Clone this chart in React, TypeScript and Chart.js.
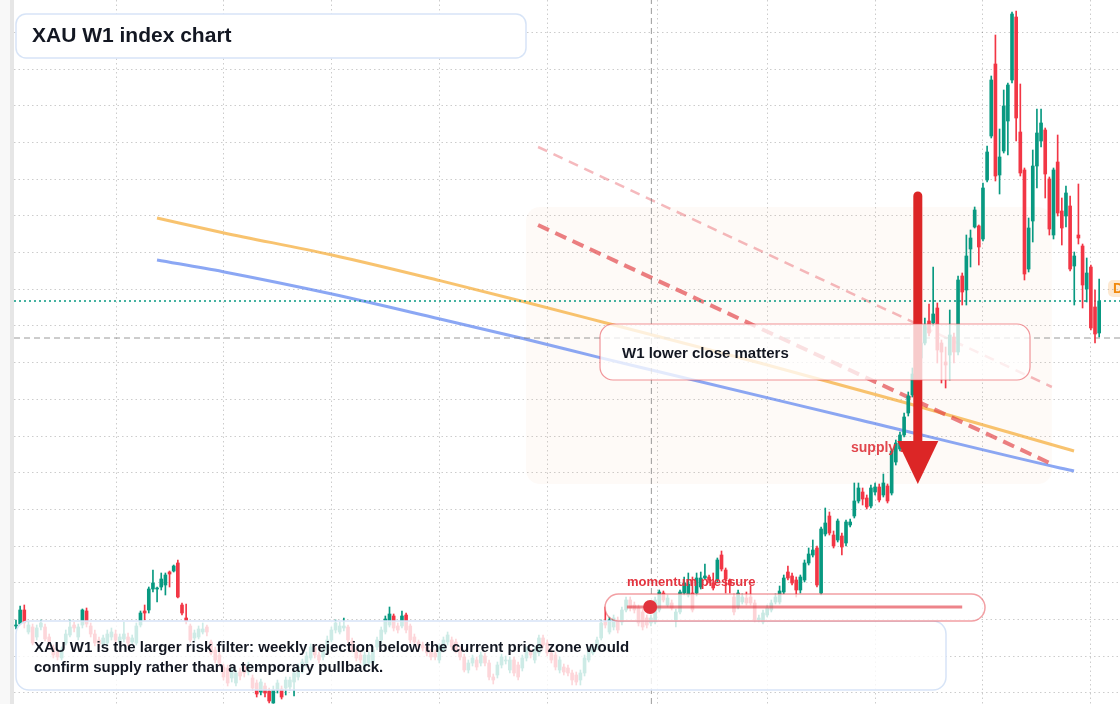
import React, { useEffect, useRef } from 'react';
import { Chart, registerables } from 'chart.js';

Chart.register(...registerables);

// Weekly XAU candles (price units)
const opens = [
  1842, 1848, 1890, 1824, 1839, 1809, 1839, 1839, 1809, 1776,
  1764, 1746, 1791, 1815, 1845, 1809, 1845, 1887, 1842, 1818,
  1800, 1788, 1791, 1809, 1818, 1794, 1803, 1809, 1794, 1791,
  1845, 1887, 1890, 1953, 1953, 1959, 1965, 2004, 2007, 2031,
  1905, 1866, 1842, 1806, 1809, 1824, 1839, 1794, 1770, 1755,
  1719, 1716, 1686, 1671, 1704, 1719, 1704, 1686, 1671, 1644,
  1662, 1647, 1611, 1650, 1653, 1656, 1659, 1674, 1689, 1710,
  1731, 1746, 1776, 1755, 1749, 1770, 1800, 1830, 1824, 1836,
  1839, 1797, 1764, 1755, 1725, 1731, 1731, 1779, 1800, 1824,
  1845, 1872, 1842, 1842, 1875, 1842, 1809, 1794, 1785, 1779,
  1764, 1761, 1740, 1770, 1794, 1800, 1794, 1770, 1749, 1710,
  1731, 1740, 1731, 1752, 1731, 1689, 1695, 1725, 1737, 1710,
  1740, 1725, 1716, 1746, 1764, 1740, 1761, 1806, 1791, 1761,
  1755, 1710, 1719, 1716, 1701, 1695, 1680, 1701, 1740, 1761,
  1779, 1806, 1854, 1824, 1839, 1860, 1854, 1890, 1920, 1905,
  1896, 1884, 1866, 1851, 1854, 1890, 1941, 1905, 1911, 1860,
  1884, 1941, 1935, 1941, 1941, 1959, 1986, 1989, 1971, 1980,
  2055, 2010, 1980, 1929, 1899, 1914, 1926, 1929, 1911, 1860,
  1854, 1875, 1890, 1914, 1914, 1944, 2004, 1992, 1980, 1950,
  1980, 2031, 2055, 2076, 1941, 2118, 2172, 2115, 2100, 2112,
  2091, 2145, 2172, 2217, 2244, 2226, 2202, 2244, 2259, 2235,
  2262, 2241, 2334, 2373, 2415, 2481, 2535, 2598, 2646, 2691,
  2757, 2751, 2796, 2691, 2634, 2655, 2709, 2664, 2892, 2850,
  2973, 3039, 3042, 3003, 3180, 3312, 3528, 3195, 3267, 3357,
  3480, 3669, 3324, 3210, 2913, 3057, 3222, 3297, 3330, 3183,
  3015, 3234, 3087, 3072, 3102, 2922, 3015, 2982, 2853, 2919,
  2799, 2721,
];
const highs = [
  1860, 1902, 1905, 1854, 1848, 1845, 1860, 1848, 1818, 1785,
  1770, 1779, 1830, 1860, 1854, 1848, 1893, 1896, 1851, 1830,
  1809, 1815, 1830, 1836, 1830, 1818, 1854, 1821, 1815, 1851,
  1887, 1905, 1959, 2010, 1959, 2001, 2001, 2007, 2025, 2040,
  1911, 1908, 1848, 1830, 1842, 1851, 1845, 1800, 1779, 1764,
  1728, 1725, 1719, 1710, 1716, 1728, 1734, 1695, 1680, 1683,
  1671, 1656, 1662, 1680, 1662, 1689, 1689, 1710, 1728, 1743,
  1764, 1788, 1785, 1764, 1779, 1812, 1839, 1860, 1854, 1866,
  1845, 1806, 1773, 1764, 1764, 1764, 1779, 1809, 1839, 1872,
  1899, 1878, 1851, 1887, 1881, 1848, 1818, 1800, 1794, 1788,
  1773, 1770, 1788, 1809, 1824, 1809, 1803, 1779, 1758, 1740,
  1755, 1749, 1764, 1761, 1740, 1698, 1734, 1758, 1752, 1749,
  1749, 1734, 1755, 1779, 1773, 1779, 1815, 1815, 1800, 1770,
  1764, 1749, 1728, 1725, 1710, 1704, 1710, 1755, 1779, 1788,
  1809, 1860, 1899, 1869, 1875, 1869, 1899, 1929, 1929, 1914,
  1905, 1893, 1875, 1875, 1929, 1950, 1947, 1935, 1920, 1893,
  1950, 1989, 2001, 1989, 2001, 2004, 2028, 1995, 2001, 2046,
  2067, 2016, 1983, 1938, 1950, 1938, 1944, 1962, 1920, 1875,
  1890, 1905, 1920, 1938, 1962, 1995, 2022, 2001, 1989, 1995,
  2040, 2076, 2100, 2082, 2139, 2196, 2184, 2127, 2163, 2121,
  2160, 2163, 2271, 2271, 2256, 2235, 2265, 2271, 2268, 2298,
  2268, 2373, 2400, 2424, 2481, 2544, 2616, 2664, 2712, 2766,
  2808, 2919, 2811, 2700, 2679, 2790, 2721, 2892, 2901, 3015,
  3030, 3099, 3045, 3171, 3282, 3492, 3615, 3333, 3450, 3471,
  3684, 3687, 3468, 3216, 3066, 3270, 3393, 3393, 3336, 3189,
  3216, 3315, 3126, 3162, 3132, 2964, 3168, 2988, 2946, 2925,
  2850, 2883,
];
const lows = [
  1833, 1845, 1836, 1818, 1785, 1800, 1830, 1797, 1782, 1746,
  1740, 1740, 1785, 1809, 1824, 1800, 1836, 1839, 1809, 1782,
  1776, 1782, 1785, 1800, 1791, 1785, 1794, 1782, 1785, 1785,
  1839, 1860, 1881, 1944, 1914, 1950, 1935, 1959, 2004, 1926,
  1875, 1848, 1794, 1797, 1803, 1818, 1812, 1755, 1731, 1722,
  1680, 1662, 1674, 1662, 1680, 1689, 1695, 1650, 1629, 1635,
  1629, 1611, 1610, 1641, 1623, 1635, 1650, 1632, 1680, 1701,
  1719, 1740, 1746, 1731, 1740, 1761, 1794, 1821, 1818, 1827,
  1791, 1764, 1737, 1731, 1716, 1722, 1722, 1770, 1791, 1818,
  1839, 1827, 1821, 1836, 1821, 1791, 1785, 1776, 1767, 1752,
  1740, 1740, 1731, 1764, 1785, 1770, 1761, 1740, 1704, 1701,
  1722, 1710, 1722, 1722, 1680, 1668, 1686, 1716, 1728, 1701,
  1692, 1680, 1707, 1737, 1746, 1731, 1752, 1776, 1752, 1731,
  1710, 1701, 1695, 1692, 1665, 1665, 1665, 1692, 1734, 1755,
  1770, 1800, 1836, 1818, 1830, 1821, 1845, 1884, 1887, 1881,
  1842, 1830, 1836, 1842, 1848, 1884, 1914, 1899, 1890, 1839,
  1878, 1935, 1929, 1884, 1932, 1953, 1983, 1971, 1950, 1974,
  2007, 1941, 1941, 1875, 1893, 1908, 1905, 1905, 1854, 1854,
  1848, 1869, 1884, 1908, 1908, 1938, 1980, 1965, 1929, 1941,
  1974, 2025, 2049, 1959, 1935, 2112, 2115, 2076, 2094, 2055,
  2082, 2139, 2166, 2211, 2205, 2193, 2196, 2235, 2214, 2229,
  2211, 2235, 2325, 2367, 2409, 2472, 2529, 2586, 2634, 2685,
  2712, 2742, 2631, 2571, 2556, 2580, 2631, 2655, 2805, 2805,
  2919, 3036, 2925, 2997, 3174, 3306, 3177, 3138, 3261, 3255,
  3471, 3297, 3192, 2880, 2904, 2994, 3156, 3279, 3126, 3015,
  3003, 3072, 2985, 3039, 2907, 2805, 2988, 2796, 2814, 2730,
  2691, 2709,
];
const closes = [
  1845, 1890, 1851, 1845, 1791, 1836, 1851, 1803, 1794, 1755,
  1749, 1770, 1818, 1839, 1836, 1839, 1890, 1848, 1818, 1791,
  1788, 1806, 1818, 1824, 1800, 1809, 1818, 1791, 1806, 1842,
  1881, 1881, 1953, 1971, 1956, 1983, 1995, 1998, 2022, 1929,
  1881, 1857, 1800, 1821, 1833, 1833, 1824, 1761, 1740, 1731,
  1689, 1671, 1710, 1701, 1692, 1701, 1725, 1656, 1638, 1674,
  1641, 1617, 1650, 1671, 1629, 1680, 1680, 1701, 1719, 1734,
  1752, 1779, 1755, 1740, 1770, 1800, 1830, 1851, 1842, 1842,
  1800, 1770, 1746, 1740, 1755, 1755, 1770, 1800, 1830, 1863,
  1878, 1836, 1830, 1872, 1830, 1800, 1794, 1785, 1776, 1761,
  1749, 1749, 1779, 1800, 1815, 1779, 1770, 1749, 1710, 1731,
  1746, 1719, 1755, 1731, 1689, 1680, 1725, 1749, 1740, 1740,
  1701, 1689, 1746, 1770, 1755, 1770, 1806, 1785, 1761, 1740,
  1719, 1740, 1704, 1701, 1680, 1674, 1701, 1746, 1770, 1779,
  1800, 1851, 1845, 1860, 1866, 1830, 1890, 1920, 1896, 1890,
  1851, 1839, 1845, 1866, 1920, 1944, 1920, 1926, 1896, 1884,
  1944, 1971, 1968, 1890, 1986, 1986, 1992, 1980, 1956, 2040,
  2013, 1983, 1965, 1884, 1941, 1929, 1911, 1911, 1860, 1866,
  1881, 1896, 1911, 1929, 1947, 1986, 1986, 1971, 1950, 1989,
  2031, 2058, 2070, 1965, 2133, 2151, 2121, 2082, 2157, 2079,
  2154, 2154, 2217, 2256, 2223, 2199, 2256, 2259, 2220, 2271,
  2217, 2367, 2391, 2415, 2469, 2532, 2598, 2646, 2691, 2745,
  2721, 2778, 2670, 2664, 2625, 2715, 2664, 2880, 2844, 2952,
  3006, 3090, 2979, 3156, 3264, 3480, 3192, 3249, 3402, 3465,
  3678, 3366, 3201, 2898, 3036, 3222, 3321, 3351, 3198, 3033,
  3210, 3081, 3036, 3141, 2913, 2952, 3006, 2865, 2901, 2736,
  2718, 2817,
];

// Guide curves and trend lines: [week index, price]
const orangeGuide = [
  [33.98, 3066], [49.88, 3022], [76.14, 2955], [102.17, 2878], [122.65, 2814],
  [143.13, 2748], [179.28, 2631], [215.42, 2508], [251.57, 2379], [254.94, 2367],
];
const blueGuide = [
  [33.98, 2940], [49.88, 2905], [76.14, 2838], [102.17, 2763], [122.65, 2703],
  [140.72, 2647], [155.18, 2604], [203.37, 2460], [251.57, 2316], [254.94, 2307],
];
const supplyUpperLine = [[125.8, 3279], [249.6, 2559]];
const supplyLowerLine = [[125.8, 3045], [250.1, 2325]];

const momentumLevel = 1899;
const momentumWeeks = [147.2, 228.0];
const momentumMarkerWeek = 152.8;

const crosshairWeek = 153.1;
const crosshairPrice = 2706;

// Grid positions (half-year week marks, price levels)
const gridWeeks = [24.2, 50.1, 76.1, 102, 128, 154.5, 181, 207.2, 232.9, 258.9];
const gridPrices = [
  1642, 1752, 1862, 1972, 2082, 2192, 2302, 2412, 2522, 2632,
  2742, 2852, 2962, 3072, 3182, 3292, 3402, 3512, 3622,
];

const X_MIN = -0.48;
const X_MAX = 266.02;
const Y_MIN = 1608;
const Y_MAX = 3720;

const supplyZone = { fromWeek: 122.9, toWeek: 249.6, top: 3099, bottom: 2268 };
const supplyArrow = { week: 217.3, top: 3132, headBase: 2397, tip: 2268 };
const supplyLabel = { week: 201.2, price: 2376, text: 'supply zone' };

const TITLE = 'XAU W1 index chart';
const NOTE_LINES = [
  'XAU W1 is the larger risk filter: weekly rejection below the current price zone would',
  'confirm supply rather than a temporary pullback.',
];
const W1_TEXT = 'W1 lower close matters';
const MOMENTUM_TEXT = 'momentum pressure';
const EDGE_TAG = 'D1';

const UP = '#089981';
const DOWN = '#f23645';
const FONT = '"Liberation Sans", Arial, Helvetica, sans-serif';

function roundRect(ctx: any, x: number, y: number, w: number, h: number, r: number) {
  ctx.beginPath();
  ctx.moveTo(x + r, y);
  ctx.arcTo(x + w, y, x + w, y + h, r);
  ctx.arcTo(x + w, y + h, x, y + h, r);
  ctx.arcTo(x, y + h, x, y, r);
  ctx.arcTo(x, y, x + w, y, r);
  ctx.closePath();
}

function panel(ctx: any, x: number, y: number, w: number, h: number, r: number, fill: string, stroke: string, lw: number) {
  ctx.save();
  roundRect(ctx, x, y, w, h, r);
  ctx.fillStyle = fill;
  ctx.fill();
  ctx.lineWidth = lw;
  ctx.strokeStyle = stroke;
  ctx.stroke();
  ctx.restore();
}

function text(ctx: any, s: string, x: number, y: number, font: string, color: string, align = 'left') {
  ctx.save();
  ctx.font = font;
  ctx.fillStyle = color;
  ctx.textAlign = align;
  ctx.textBaseline = 'middle';
  ctx.fillText(s, x, y);
  ctx.restore();
}

const overlayPlugin = {
  id: 'xauOverlays',
  beforeDraw(chart: any) {
    const { ctx, width, height } = chart;
    ctx.save();
    ctx.fillStyle = '#ffffff';
    ctx.fillRect(0, 0, width, height);
    ctx.fillStyle = '#f8f8f8';
    ctx.fillRect(0, 0, 10, height);
    ctx.fillStyle = '#e6e6e6';
    ctx.fillRect(10, 0, 4, height);
    ctx.restore();
  },
  beforeDatasetsDraw(chart: any) {
    const { ctx } = chart;
    const { x, y } = chart.scales;
    const x0 = x.getPixelForValue(supplyZone.fromWeek);
    const x1 = x.getPixelForValue(supplyZone.toWeek);
    const y0 = y.getPixelForValue(supplyZone.top);
    const y1 = y.getPixelForValue(supplyZone.bottom);
    ctx.save();
    roundRect(ctx, x0, y0, x1 - x0, y1 - y0, 14);
    ctx.fillStyle = 'rgba(240,175,120,0.06)';
    ctx.fill();
    ctx.restore();
  },
  afterDatasetDraw(chart: any, args: any) {
    if (chart.data.datasets[args.index].label !== 'bodies') return;
    const { ctx } = chart;
    const { x, y } = chart.scales;

    // supply zone label (under the arrow)
    text(ctx, supplyLabel.text, x.getPixelForValue(supplyLabel.week), y.getPixelForValue(supplyLabel.price),
      `bold 14px ${FONT}`, 'rgba(222,50,58,0.9)');

    // arrow
    const ax = x.getPixelForValue(supplyArrow.week);
    const aTop = y.getPixelForValue(supplyArrow.top);
    const aBase = y.getPixelForValue(supplyArrow.headBase);
    const aTip = y.getPixelForValue(supplyArrow.tip);
    ctx.save();
    ctx.strokeStyle = '#dc2626';
    ctx.lineWidth = 9;
    ctx.lineCap = 'round';
    ctx.beginPath();
    ctx.moveTo(ax, aTop);
    ctx.lineTo(ax, aBase + 4);
    ctx.stroke();
    ctx.fillStyle = '#dc2626';
    ctx.beginPath();
    ctx.moveTo(ax - 20.5, aBase);
    ctx.lineTo(ax + 20.5, aBase);
    ctx.lineTo(ax, aTip);
    ctx.closePath();
    ctx.fill();
    ctx.restore();

    // translucent panels over the candles
    panel(ctx, 600, 324, 430, 56, 13, 'rgba(255,255,255,0.76)', 'rgba(232,80,88,0.6)', 1.2);
    text(ctx, W1_TEXT, 622, 353.5, `bold 15px ${FONT}`, '#131722');

    panel(ctx, 16, 621, 930, 69, 13, 'rgba(255,255,255,0.8)', '#d7e4f7', 1.5);
    text(ctx, NOTE_LINES[0], 34, 648, `bold 15px ${FONT}`, '#131722');
    text(ctx, NOTE_LINES[1], 34, 668, `bold 15px ${FONT}`, '#131722');

    panel(ctx, 605, 594, 380, 27, 13.5, 'rgba(255,255,255,0.78)', 'rgba(232,80,88,0.55)', 1.5);
  },
  afterDatasetsDraw(chart: any) {
    const { ctx } = chart;
    text(ctx, MOMENTUM_TEXT, 627, 582.5, `bold 13px ${FONT}`, '#e3343f');

    panel(ctx, 16, 14, 510, 44, 10, '#ffffff', '#d7e4f7', 1.5);
    text(ctx, TITLE, 32, 36, `bold 21px ${FONT}`, '#131722');

    ctx.save();
    roundRect(ctx, 1108, 280, 44, 17, 5);
    ctx.fillStyle = 'rgba(247,147,30,0.2)';
    ctx.fill();
    ctx.restore();
    text(ctx, EDGE_TAG, 1113, 289, `bold 14px ${FONT}`, '#f0890e');
  },
};

export default function App() {
  const ref = useRef<HTMLCanvasElement>(null);

  useEffect(() => {
    document.body.style.margin = '0';
    const canvas = ref.current;
    if (!canvas) return;
    const idx = closes.map((_, i) => i);
    const colors = idx.map((i) => (closes[i] >= opens[i] ? UP : DOWN));
    const pts = (arr: number[][]) => arr.map(([px, py]) => ({ x: px, y: py }));
    const last = closes[closes.length - 1];

    const chart = new Chart(canvas, {
      type: 'bar',
      data: {
        datasets: [
          {
            type: 'line', label: 'guideOrange', data: pts(orangeGuide),
            borderColor: 'rgba(245,170,50,0.7)', borderWidth: 3, pointRadius: 0,
            tension: 0.4, cubicInterpolationMode: 'monotone', order: 100,
          },
          {
            type: 'line', label: 'guideBlue', data: pts(blueGuide),
            borderColor: 'rgba(90,130,240,0.7)', borderWidth: 3, pointRadius: 0,
            tension: 0.4, cubicInterpolationMode: 'monotone', order: 99,
          },
          {
            type: 'line', label: 'supplyUpper', data: pts(supplyUpperLine),
            borderColor: 'rgba(230,80,90,0.4)', borderWidth: 2.5, borderDash: [10, 7], pointRadius: 0, order: 98,
          },
          {
            type: 'line', label: 'supplyLower', data: pts(supplyLowerLine),
            borderColor: 'rgba(225,60,65,0.65)', borderWidth: 4, borderDash: [12, 7], pointRadius: 0, order: 97,
          },
          {
            type: 'line', label: 'crossH', data: [{ x: X_MIN, y: crosshairPrice }, { x: X_MAX, y: crosshairPrice }],
            borderColor: 'rgba(120,120,120,0.75)', borderWidth: 1, borderDash: [6, 4], pointRadius: 0, order: 96,
          },
          {
            type: 'line', label: 'crossV', data: [{ x: crosshairWeek, y: Y_MIN }, { x: crosshairWeek, y: Y_MAX }],
            borderColor: 'rgba(120,120,120,0.75)', borderWidth: 1, borderDash: [6, 4], pointRadius: 0, order: 95,
          },
          {
            type: 'line', label: 'lastPrice', data: [{ x: X_MIN, y: last }, { x: X_MAX, y: last }],
            borderColor: UP, borderWidth: 1.5, borderDash: [2, 3], pointRadius: 0, order: 94,
          },
          {
            type: 'bar', label: 'wicks', data: idx.map((i) => ({ x: i, y: [lows[i], highs[i]] })),
            backgroundColor: colors, barThickness: 1, grouped: false, borderWidth: 0, order: 20,
          },
          {
            type: 'bar', label: 'bodies', data: idx.map((i) => ({ x: i, y: [opens[i], closes[i]] })),
            backgroundColor: colors, barThickness: 3, grouped: false, borderWidth: 0, minBarLength: 1, order: 19,
          },
          {
            type: 'line', label: 'momentum',
            data: [{ x: momentumWeeks[0], y: momentumLevel }, { x: momentumWeeks[1], y: momentumLevel }],
            borderColor: 'rgba(225,50,60,0.6)', borderWidth: 3, pointRadius: 0, order: 2,
          },
          {
            type: 'line', label: 'momentumMarker', data: [{ x: momentumMarkerWeek, y: momentumLevel }],
            showLine: false, pointRadius: 7, pointBackgroundColor: '#e1323c', pointBorderWidth: 0, order: 1,
          },
        ],
      } as any,
      options: {
        animation: false,
        responsive: false,
        devicePixelRatio: 1,
        events: [],
        layout: { autoPadding: false, padding: { left: 14, right: 0, top: 0, bottom: 0 } },
        plugins: { legend: { display: false }, tooltip: { enabled: false }, title: { display: false } },
        scales: {
          x: {
            type: 'linear', min: X_MIN, max: X_MAX, offset: false,
            grid: { offset: false, color: 'rgba(0,0,0,0.2)', lineWidth: 1, drawTicks: false },
            border: { display: false, dash: [1.5, 3] },
            ticks: { display: false },
            afterBuildTicks: (axis: any) => { axis.ticks = gridWeeks.map((v) => ({ value: v })); },
          },
          y: {
            type: 'linear', min: Y_MIN, max: Y_MAX, beginAtZero: false,
            grid: { color: 'rgba(0,0,0,0.2)', lineWidth: 1, drawTicks: false },
            border: { display: false, dash: [1.5, 3] },
            ticks: { display: false },
            afterBuildTicks: (axis: any) => { axis.ticks = gridPrices.map((v) => ({ value: v })); },
          },
        },
      } as any,
      plugins: [overlayPlugin as any],
    });
    return () => chart.destroy();
  }, []);

  return (
    <div style={{ width: 1120, height: 704, position: 'relative', overflow: 'hidden' }}>
      <canvas ref={ref} width={1120} height={704} style={{ display: 'block' }} />
    </div>
  );
}
